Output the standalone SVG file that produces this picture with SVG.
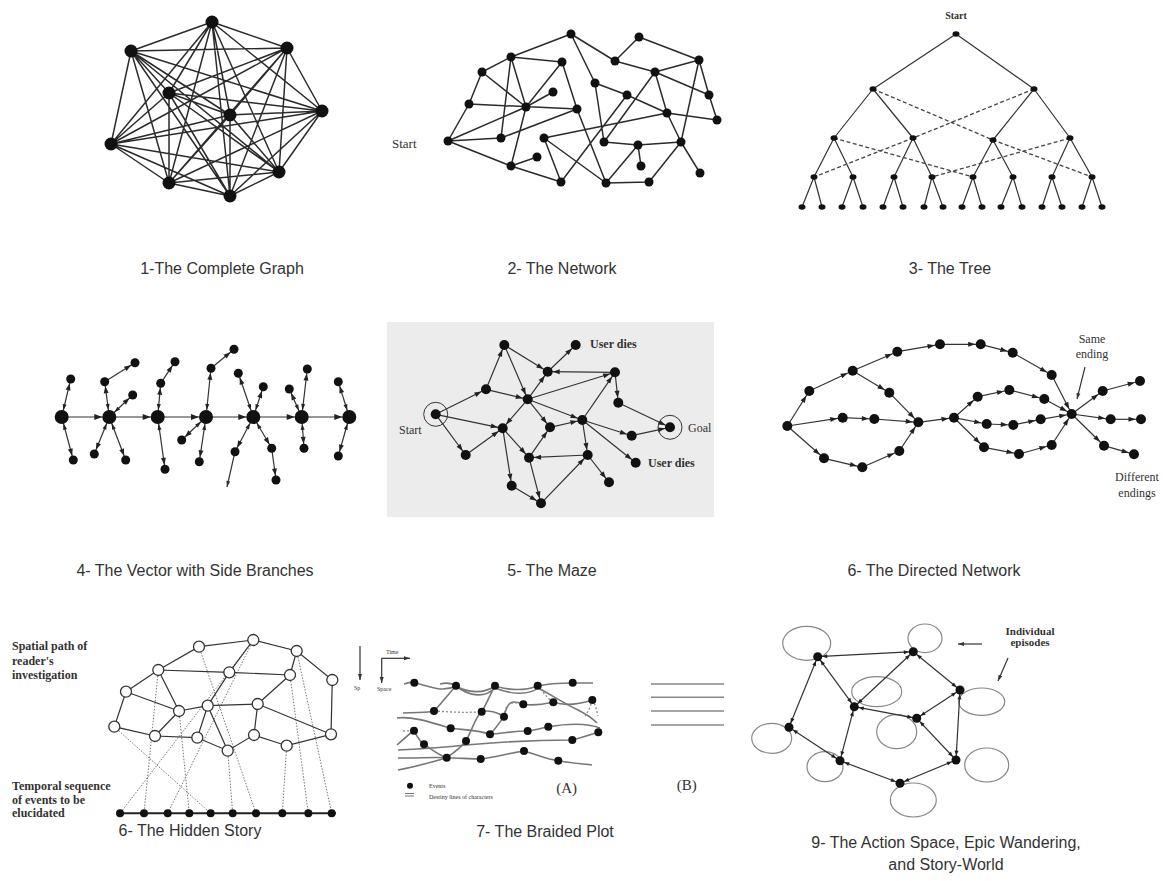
<svg xmlns="http://www.w3.org/2000/svg" width="1164" height="881" viewBox="0 0 1164 881">
<defs>
<style>
.cap{font-family:"Liberation Sans",Arial,sans-serif;font-size:16px;fill:#333;text-anchor:middle}
.ser{font-family:"Liberation Serif","Times New Roman",serif;fill:#333}
.b{font-weight:bold}
.ln{stroke:#2b2b2b;stroke-width:1.5;fill:none}
.thin{stroke:#333;stroke-width:1.2;fill:none}
.dash{stroke:#444;stroke-width:1.3;fill:none;stroke-dasharray:4 2.5}
.dot{stroke:#777;stroke-width:1;fill:none;stroke-dasharray:1.5 1.5}
.gr{stroke:#777;stroke-width:1.6;fill:none}
.grd{stroke:#888;stroke-width:1.3;fill:none;stroke-dasharray:2 2}
.nd{fill:#111}
.oc{fill:#fff;stroke:#333;stroke-width:1.3}
.ell{fill:none;stroke:#888;stroke-width:1.2}
</style>
<marker id="m4a" markerUnits="userSpaceOnUse" markerWidth="8" markerHeight="6" refX="15" refY="3" orient="auto" overflow="visible"><path d="M0,0L8,3L0,6z" fill="#222"/></marker>
<marker id="m4b" markerUnits="userSpaceOnUse" markerWidth="7" markerHeight="5" refX="11.5" refY="2.5" orient="auto" overflow="visible"><path d="M0,0L7,2.5L0,5z" fill="#222"/></marker>
<marker id="m4s" markerUnits="userSpaceOnUse" markerWidth="6" markerHeight="4" refX="13" refY="2" orient="auto-start-reverse" overflow="visible"><path d="M0,0L6,2L0,4z" fill="#222"/></marker>
<marker id="m5" markerUnits="userSpaceOnUse" markerWidth="7" markerHeight="5" refX="12" refY="2.5" orient="auto" overflow="visible"><path d="M0,0L7,2.5L0,5z" fill="#222"/></marker>
<marker id="m6" markerUnits="userSpaceOnUse" markerWidth="7" markerHeight="5" refX="12.5" refY="2.5" orient="auto" overflow="visible"><path d="M0,0L7,2.5L0,5z" fill="#222"/></marker>
<marker id="m9" markerUnits="userSpaceOnUse" markerWidth="5" markerHeight="4" refX="9.5" refY="2" orient="auto-start-reverse" overflow="visible"><path d="M0,0L5,2L0,4z" fill="#222"/></marker>
<marker id="m0" markerUnits="userSpaceOnUse" markerWidth="6" markerHeight="4" refX="6" refY="2" orient="auto" overflow="visible"><path d="M0,0L6,2L0,4z" fill="#333"/></marker>
</defs>
<rect width="1164" height="881" fill="#fff"/>

<!-- Panel 1: complete graph -->
<g id="p1-connectors">
<path class="ln" d="M212,22L131,51M212,22L287,48M212,22L169,93M212,22L230,115M212,22L322,111M212,22L111,144M212,22L169,183M212,22L230,196M212,22L279,172M131,51L287,48M131,51L169,93M131,51L230,115M131,51L322,111M131,51L111,144M131,51L169,183M131,51L230,196M131,51L279,172M287,48L169,93M287,48L230,115M287,48L322,111M287,48L111,144M287,48L169,183M287,48L230,196M287,48L279,172M169,93L230,115M169,93L322,111M169,93L111,144M169,93L169,183M169,93L230,196M169,93L279,172M230,115L322,111M230,115L111,144M230,115L169,183M230,115L230,196M230,115L279,172M322,111L111,144M322,111L169,183M322,111L230,196M322,111L279,172M111,144L169,183M111,144L230,196M111,144L279,172M169,183L230,196M169,183L279,172M230,196L279,172"/>
</g>
<g id="p1-nodes" class="nd">
<circle cx="212" cy="22" r="6.5"/><circle cx="131" cy="51" r="6.5"/><circle cx="287" cy="48" r="6.5"/><circle cx="169" cy="93" r="6.5"/><circle cx="230" cy="115" r="6.5"/><circle cx="322" cy="111" r="6.5"/><circle cx="111" cy="144" r="6.5"/><circle cx="169" cy="183" r="6.5"/><circle cx="230" cy="196" r="6.5"/><circle cx="279" cy="172" r="6.5"/>
</g>
<text class="cap" x="222" y="274">1-The Complete Graph</text>

<!-- Panel 2: network -->
<g id="p2-connectors">
<path class="ln" d="M448,141L469,104M469,104L482,72M482,72L511,57M511,57L571,34M511,57L562,62M511,57L501,138M511,57L526,107M482,72L526,107M469,104L577,109M526,107L553,92M562,62L526,107M448,141L526,107M448,141L501,138M501,138L577,109M526,107L511,166M448,141L511,166M511,166L537,157M511,166L561,182M562,62L577,109M571,34L595,83M571,34L615,61M595,83L627,95M627,95L667,113M595,83L604,142M577,109L606,183M615,61L639,37M639,37L699,60M615,61L655,72M655,72L699,60M655,72L709,95M699,60L709,95M709,95L717,120M699,60L681,142M655,72L667,113M655,72L604,142M667,113L717,120M667,113L681,142M544,138L667,113M604,142L638,145M638,145L681,142M638,145L641,166M638,145L606,183M681,142L700,173M681,142L649,182M606,183L649,182M544,138L606,183M544,138L561,182M561,182L627,95"/>
</g>
<g id="p2-nodes" class="nd">
<circle cx="571" cy="34" r="4.5"/><circle cx="639" cy="37" r="4.5"/><circle cx="511" cy="57" r="4.5"/><circle cx="562" cy="62" r="4.5"/><circle cx="615" cy="61" r="4.5"/><circle cx="699" cy="60" r="4.5"/><circle cx="482" cy="72" r="4.5"/><circle cx="655" cy="72" r="4.5"/><circle cx="595" cy="83" r="4.5"/><circle cx="553" cy="92" r="4.5"/><circle cx="627" cy="95" r="4.5"/><circle cx="709" cy="95" r="4.5"/><circle cx="469" cy="104" r="4.5"/><circle cx="526" cy="107" r="4.5"/><circle cx="577" cy="109" r="4.5"/><circle cx="667" cy="113" r="4.5"/><circle cx="717" cy="120" r="4.5"/><circle cx="448" cy="141" r="4.5"/><circle cx="501" cy="138" r="4.5"/><circle cx="544" cy="138" r="4.5"/><circle cx="604" cy="142" r="4.5"/><circle cx="638" cy="145" r="4.5"/><circle cx="681" cy="142" r="4.5"/><circle cx="537" cy="157" r="4.5"/><circle cx="511" cy="166" r="4.5"/><circle cx="641" cy="166" r="4.5"/><circle cx="700" cy="173" r="4.5"/><circle cx="561" cy="182" r="4.5"/><circle cx="606" cy="183" r="4.5"/><circle cx="649" cy="182" r="4.5"/>
</g>
<text class="ser" x="392" y="148" font-size="13">Start</text>
<text class="cap" x="562" y="274">2- The Network</text>

<!-- Panel 3: tree -->
<g id="p3-connectors">
<path class="thin" d="M956,34L873,89M956,34L1034,89M873,89L834,138M873,89L913,138M1034,89L993,140M1034,89L1070,138M834,138L814,177M834,138L853,177M913,138L894,177M913,138L932,177M993,140L973,177M993,140L1013,177M1070,138L1052,177M1070,138L1092,177M814,177L802,207M814,177L822,207M853,177L842,207M853,177L863,207M894,177L883,207M894,177L903,207M932,177L924,207M932,177L943,207M973,177L962,207M973,177L982,207M1013,177L1001,207M1013,177L1022,207M1052,177L1042,207M1052,177L1062,207M1092,177L1082,207M1092,177L1102,207"/>
<path class="dash" d="M873,89L993,140L1092,177M1034,89L913,138L814,177M834,138L973,177M1070,138L932,177"/>
</g>
<g id="p3-nodes" class="nd">
<ellipse cx="956" cy="34" rx="3.5" ry="2.8"/>
<ellipse cx="873" cy="89" rx="3.5" ry="2.8"/><ellipse cx="1034" cy="89" rx="3.5" ry="2.8"/>
<ellipse cx="834" cy="138" rx="3.5" ry="2.8"/><ellipse cx="913" cy="138" rx="3.5" ry="2.8"/><ellipse cx="993" cy="140" rx="3.5" ry="2.8"/><ellipse cx="1070" cy="138" rx="3.5" ry="2.8"/>
<ellipse cx="814" cy="177" rx="3.5" ry="2.8"/><ellipse cx="853" cy="177" rx="3.5" ry="2.8"/><ellipse cx="894" cy="177" rx="3.5" ry="2.8"/><ellipse cx="932" cy="177" rx="3.5" ry="2.8"/><ellipse cx="973" cy="177" rx="3.5" ry="2.8"/><ellipse cx="1013" cy="177" rx="3.5" ry="2.8"/><ellipse cx="1052" cy="177" rx="3.5" ry="2.8"/><ellipse cx="1092" cy="177" rx="3.5" ry="2.8"/>
<ellipse cx="802" cy="207" rx="3.5" ry="2.8"/><ellipse cx="822" cy="207" rx="3.5" ry="2.8"/><ellipse cx="842" cy="207" rx="3.5" ry="2.8"/><ellipse cx="863" cy="207" rx="3.5" ry="2.8"/><ellipse cx="883" cy="207" rx="3.5" ry="2.8"/><ellipse cx="903" cy="207" rx="3.5" ry="2.8"/><ellipse cx="924" cy="207" rx="3.5" ry="2.8"/><ellipse cx="943" cy="207" rx="3.5" ry="2.8"/><ellipse cx="962" cy="207" rx="3.5" ry="2.8"/><ellipse cx="982" cy="207" rx="3.5" ry="2.8"/><ellipse cx="1001" cy="207" rx="3.5" ry="2.8"/><ellipse cx="1022" cy="207" rx="3.5" ry="2.8"/><ellipse cx="1042" cy="207" rx="3.5" ry="2.8"/><ellipse cx="1062" cy="207" rx="3.5" ry="2.8"/><ellipse cx="1082" cy="207" rx="3.5" ry="2.8"/><ellipse cx="1102" cy="207" rx="3.5" ry="2.8"/>
</g>
<text class="ser b" x="956" y="19" font-size="10" text-anchor="middle">Start</text>
<text class="cap" x="950" y="274">3- The Tree</text>

<!-- Panel 4: vector with side branches -->
<g id="p4-connectors">
<g class="thin" marker-end="url(#m4a)">
<path d="M61.7,417L109.3,417"/><path d="M109.3,417L157.7,417"/><path d="M157.7,417L206,417"/><path d="M206,417L253.3,417"/><path d="M253.3,417L301.7,417"/><path d="M301.7,417L349.3,417"/>
</g>
<g class="thin" marker-start="url(#m4s)" marker-end="url(#m4b)">
<path d="M61.7,417L70.7,379"/><path d="M61.7,417L73.3,460"/>
<path d="M109.3,417L104.7,381.7"/><path d="M109.3,417L132.7,395"/><path d="M109.3,417L94.3,454"/><path d="M109.3,417L125.7,460"/>
<path d="M157.7,417L160.7,383.3"/><path d="M157.7,417L165,469.3"/>
<path d="M206,417L211,368.3"/><path d="M206,417L181.7,440"/><path d="M206,417L199.3,461.7"/>
<path d="M253.3,417L238.3,373.3"/><path d="M253.3,417L263.3,386.7"/><path d="M253.3,417L235,451.7"/><path d="M253.3,417L271.7,448.3"/>
<path d="M301.7,417L289.3,389"/><path d="M301.7,417L307.3,369"/><path d="M301.7,417L304,448.3"/>
<path d="M349.3,417L338.3,381.7"/><path d="M349.3,417L338.3,456"/>
</g>
<g class="thin" marker-end="url(#m4b)">
<path d="M104.7,381.7L135,362.7"/><path d="M160.7,383.3L175,361.7"/><path d="M211,368.3L234,349.3"/><path d="M271.7,448.3L276,480"/>
</g>
<path class="thin" d="M235,451.7L227,487" marker-end="url(#m0)"/>
</g>
<g id="p4-nodes" class="nd">
<circle cx="61.7" cy="417" r="7"/><circle cx="109.3" cy="417" r="7"/><circle cx="157.7" cy="417" r="7"/><circle cx="206" cy="417" r="7"/><circle cx="253.3" cy="417" r="7"/><circle cx="301.7" cy="417" r="7"/><circle cx="349.3" cy="417" r="7"/>
<circle cx="70.7" cy="379" r="4.5"/><circle cx="73.3" cy="460" r="4.5"/><circle cx="104.7" cy="381.7" r="4.5"/><circle cx="135" cy="362.7" r="4.5"/><circle cx="132.7" cy="395" r="4.5"/><circle cx="94.3" cy="454" r="4.5"/><circle cx="125.7" cy="460" r="4.5"/><circle cx="160.7" cy="383.3" r="4.5"/><circle cx="175" cy="361.7" r="4.5"/><circle cx="165" cy="469.3" r="4.5"/><circle cx="211" cy="368.3" r="4.5"/><circle cx="234" cy="349.3" r="4.5"/><circle cx="181.7" cy="440" r="4.5"/><circle cx="199.3" cy="461.7" r="4.5"/><circle cx="238.3" cy="373.3" r="4.5"/><circle cx="263.3" cy="386.7" r="4.5"/><circle cx="235" cy="451.7" r="4.5"/><circle cx="271.7" cy="448.3" r="4.5"/><circle cx="276" cy="480" r="4.5"/><circle cx="289.3" cy="389" r="4.5"/><circle cx="307.3" cy="369" r="4.5"/><circle cx="304" cy="448.3" r="4.5"/><circle cx="338.3" cy="381.7" r="4.5"/><circle cx="338.3" cy="456" r="4.5"/>
</g>
<text class="cap" x="195" y="576">4- The Vector with Side Branches</text>

<!-- Panel 5: maze -->
<rect x="387" y="322" width="327" height="195" fill="#ececec"/>
<g id="p5-connectors" class="thin" marker-end="url(#m5)">
<path d="M435.7,414.3L486,389.3"/><path d="M435.7,414.3L502.7,428.3"/><path d="M435.7,414.3L465.7,455"/><path d="M465.7,455L502.7,428.3"/>
<path d="M486,389.3L504.3,345"/><path d="M504.3,345L547.7,371.7"/><path d="M504.3,345L527.7,399.3"/><path d="M547.7,371.7L575.7,345"/>
<path d="M615,372.3L547.7,371.7"/><path d="M486,389.3L527.7,399.3"/><path d="M527.7,399.3L547.7,371.7"/><path d="M527.7,399.3L615,372.3"/>
<path d="M615,372.3L618.3,402.7"/><path d="M582.3,420L615,372.3"/><path d="M527.7,399.3L550,427.3"/><path d="M527.7,399.3L502.7,428.3"/>
<path d="M527.7,399.3L582.3,420"/><path d="M618.3,402.7L670,427.3"/><path d="M582.3,420L631.7,435.7"/><path d="M631.7,435.7L670,427.3"/>
<path d="M582.3,420L635.7,462.7"/><path d="M582.3,420L587.7,455"/><path d="M550,427.3L582.3,420"/><path d="M502.7,428.3L529,457.7"/>
<path d="M529,457.7L550,427.3"/><path d="M587.7,455L529,457.7"/><path d="M587.7,455L609,482.3"/><path d="M502.7,428.3L511.7,485.7"/>
<path d="M529,457.7L541,503.3"/><path d="M511.7,485.7L541,503.3"/><path d="M541,503.3L587.7,455"/>
</g>
<g id="p5-nodes" class="nd">
<circle cx="435.7" cy="414.3" r="12" fill="none" stroke="#333" stroke-width="1"/><circle cx="435.7" cy="414.3" r="5"/>
<circle cx="670" cy="427.3" r="12" fill="none" stroke="#333" stroke-width="1"/><circle cx="670" cy="427.3" r="5"/>
<circle cx="504.3" cy="345" r="5"/><circle cx="575.7" cy="345" r="5"/><circle cx="547.7" cy="371.7" r="5"/><circle cx="615" cy="372.3" r="5"/><circle cx="486" cy="389.3" r="5"/><circle cx="527.7" cy="399.3" r="5"/><circle cx="618.3" cy="402.7" r="5"/><circle cx="502.7" cy="428.3" r="5"/><circle cx="550" cy="427.3" r="5"/><circle cx="582.3" cy="420" r="5"/><circle cx="631.7" cy="435.7" r="5"/><circle cx="465.7" cy="455" r="5"/><circle cx="529" cy="457.7" r="5"/><circle cx="587.7" cy="455" r="5"/><circle cx="635.7" cy="462.7" r="5"/><circle cx="609" cy="482.3" r="5"/><circle cx="511.7" cy="485.7" r="5"/><circle cx="541" cy="503.3" r="5"/>
</g>
<text class="ser b" x="590" y="348" font-size="12">User dies</text>
<text class="ser b" x="648" y="467" font-size="12">User dies</text>
<text class="ser" x="399" y="434" font-size="12">Start</text>
<text class="ser" x="688" y="432" font-size="12">Goal</text>
<text class="cap" x="552" y="576">5- The Maze</text>

<!-- Panel 6: directed network -->
<g id="p6-connectors" class="thin" marker-end="url(#m6)">
<path d="M787.3,426L809.3,391"/><path d="M809.3,391L852.7,370.7"/><path d="M852.7,370.7L897.3,351.7"/><path d="M897.3,351.7L940,344.3"/><path d="M940,344.3L980.7,344.3"/><path d="M980.7,344.3L1012.7,352.7"/><path d="M1012.7,352.7L1051.7,375"/><path d="M1051.7,375L1071.7,414"/>
<path d="M852.7,370.7L889.3,392.7"/><path d="M889.3,392.7L918.3,422.3"/>
<path d="M787.3,426L842.7,417.7"/><path d="M842.7,417.7L874.3,419"/><path d="M874.3,419L918.3,422.3"/>
<path d="M787.3,426L824,458.3"/><path d="M824,458.3L862.3,467.3"/><path d="M862.3,467.3L899.3,451"/><path d="M899.3,451L918.3,422.3"/>
<path d="M918.3,422.3L954,417.7"/>
<path d="M954,417.7L977.7,396.7"/><path d="M977.7,396.7L1009.3,390"/><path d="M1009.3,390L1044.3,399"/><path d="M1044.3,399L1071.7,414"/>
<path d="M954,417.7L986.7,424"/><path d="M986.7,424L1013.3,425"/><path d="M1013.3,425L1040.7,419.3"/><path d="M1040.7,419.3L1071.7,414"/>
<path d="M954,417.7L984,447.3"/><path d="M984,447.3L1019,454"/><path d="M1019,454L1051.7,445"/><path d="M1051.7,445L1071.7,414"/>
<path d="M1071.7,414L1102.7,391"/><path d="M1102.7,391L1140,381"/>
<path d="M1071.7,414L1110.7,419.3"/><path d="M1110.7,419.3L1141,419.3"/>
<path d="M1071.7,414L1104,445.7"/><path d="M1104,445.7L1134,454.3"/>
</g>
<g id="p6-nodes" class="nd">
<circle cx="787.3" cy="426" r="5"/><circle cx="809.3" cy="391" r="5"/><circle cx="852.7" cy="370.7" r="5"/><circle cx="897.3" cy="351.7" r="5"/><circle cx="940" cy="344.3" r="5"/><circle cx="980.7" cy="344.3" r="5"/><circle cx="1012.7" cy="352.7" r="5"/><circle cx="1051.7" cy="375" r="5"/><circle cx="889.3" cy="392.7" r="5"/><circle cx="842.7" cy="417.7" r="5"/><circle cx="874.3" cy="419" r="5"/><circle cx="824" cy="458.3" r="5"/><circle cx="862.3" cy="467.3" r="5"/><circle cx="899.3" cy="451" r="5"/><circle cx="918.3" cy="422.3" r="5"/><circle cx="954" cy="417.7" r="5"/><circle cx="977.7" cy="396.7" r="5"/><circle cx="1009.3" cy="390" r="5"/><circle cx="1044.3" cy="399" r="5"/><circle cx="986.7" cy="424" r="5"/><circle cx="1013.3" cy="425" r="5"/><circle cx="1040.7" cy="419.3" r="5"/><circle cx="984" cy="447.3" r="5"/><circle cx="1019" cy="454" r="5"/><circle cx="1051.7" cy="445" r="5"/><circle cx="1071.7" cy="414" r="5"/><circle cx="1102.7" cy="391" r="5"/><circle cx="1140" cy="381" r="5"/><circle cx="1110.7" cy="419.3" r="5"/><circle cx="1141" cy="419.3" r="5"/><circle cx="1104" cy="445.7" r="5"/><circle cx="1134" cy="454.3" r="5"/>
</g>
<path class="thin" d="M1085,367L1077,399" marker-end="url(#m0)"/>
<text class="ser" x="1092" y="343" font-size="12" text-anchor="middle">Same</text>
<text class="ser" x="1092" y="358" font-size="12" text-anchor="middle">ending</text>
<text class="ser" x="1137" y="481" font-size="12" text-anchor="middle">Different</text>
<text class="ser" x="1137" y="497" font-size="12" text-anchor="middle">endings</text>
<text class="cap" x="934" y="576">6- The Directed Network</text>

<!-- Panel 7: hidden story -->
<g id="p7-connectors">
<path class="dot" d="M253.3,640L120,813.3M253.3,640L167.7,813.3M158.3,670L144,813.3M114.3,726.7L210.7,813.3M179,711L189.3,813.3M199,646.7L256,813.3M227.7,750.7L232.7,813.3M286.7,745.7L282.3,813.3M290,675L308.3,813.3M296.7,651L331.7,813.3"/>
<path class="thin" d="M126,691.7L158.3,670L199,646.7L253.3,640L296.7,651L332.3,680L331,734.3M158.3,670L229.3,672.3L290,675M126,691.7L114.3,726.7L155,736L197.3,737.7M126,691.7L179,711M158.3,670L179,711M155,736L179,711M179,711L207.7,705.7L257.7,704L331,734.3M253.3,640L229.3,672.3L207.7,705.7M207.7,705.7L227.7,750.7M197.3,737.7L207.7,705.7M197.3,737.7L227.7,750.7L254,735L257.7,704M254,735L286.7,745.7L331,734.3M290,675L257.7,704M296.7,651L290,675"/>
<path stroke="#222" stroke-width="2" d="M117,813.3L336,813.3"/>
</g>
<g id="p7-nodes">
<g class="oc">
<circle cx="199" cy="646.7" r="5.5"/><circle cx="253.3" cy="640" r="5.5"/><circle cx="296.7" cy="651" r="5.5"/><circle cx="158.3" cy="670" r="5.5"/><circle cx="229.3" cy="672.3" r="5.5"/><circle cx="290" cy="675" r="5.5"/><circle cx="332.3" cy="680" r="5.5"/><circle cx="126" cy="691.7" r="5.5"/><circle cx="179" cy="711" r="5.5"/><circle cx="207.7" cy="705.7" r="5.5"/><circle cx="257.7" cy="704" r="5.5"/><circle cx="114.3" cy="726.7" r="5.5"/><circle cx="155" cy="736" r="5.5"/><circle cx="197.3" cy="737.7" r="5.5"/><circle cx="254" cy="735" r="5.5"/><circle cx="227.7" cy="750.7" r="5.5"/><circle cx="286.7" cy="745.7" r="5.5"/><circle cx="331" cy="734.3" r="5.5"/>
</g>
<g class="nd">
<circle cx="120" cy="813.3" r="4"/><circle cx="144" cy="813.3" r="4"/><circle cx="167.7" cy="813.3" r="4"/><circle cx="189.3" cy="813.3" r="4"/><circle cx="210.7" cy="813.3" r="4"/><circle cx="232.7" cy="813.3" r="4"/><circle cx="256" cy="813.3" r="4"/><circle cx="282.3" cy="813.3" r="4"/><circle cx="308.3" cy="813.3" r="4"/><circle cx="331.7" cy="813.3" r="4"/>
</g>
</g>
<g class="ser b" font-size="12">
<text x="12" y="650">Spatial path of</text>
<text x="12" y="665">reader's</text>
<text x="12" y="679">investigation</text>
<text x="12" y="790">Temporal sequence</text>
<text x="12" y="803.5">of events to be</text>
<text x="12" y="817">elucidated</text>
</g>
<text class="cap" x="190" y="836">6- The Hidden Story</text>

<!-- Panel 8: braided plot -->
<g id="p8-connectors">
<path class="thin" stroke-width="0.8" d="M360,646L360,680" marker-end="url(#m0)"/>
<path class="thin" stroke-width="0.8" d="M381.7,658.3L410,658.3" marker-end="url(#m0)"/>
<path class="thin" stroke-width="0.8" d="M381.7,658.3L381.7,683" marker-end="url(#m0)"/>
<path class="gr" d="M404,684C409,682 412,682 414,683C425,684 440,694 456,686C468,693 484,694 495,686C508,690 524,691 538,686C550,683 562,683 573,683L593,683"/>
<path class="gr" d="M440,684C448,682 452,683 456,686C470,697 485,698 495,688C510,694 528,696 538,688C550,694 565,704 578,710C588,715 594,720 597,723"/>
<path class="gr" d="M403,713C418,712 428,713 434,711C442,703 450,692 456,686"/>
<path class="gr" d="M397,718C412,716 430,722 450.7,728.3C465,730 478,730 490,734.3C505,733 515,731 527.7,731C535,730 542,728 548.3,726.7C565,724 585,722 600,728"/>
<path class="gr" d="M490,734.3C496,728 500,722 504,716.7C508,700 512,700 523.3,704.3C535,706 545,704 553.3,702.3C565,706 580,704 592.3,700"/>
<path class="gr" d="M397,745C405,738 410,733 414,730.7C418,738 420,742 424,744.3C432,750 440,756 446.7,757.7C455,752 462,746 466,741C472,730 476,716 481.7,711.7C488,710 498,712 504,716.7"/>
<path class="gr" d="M481.7,711.7C486,705 490,695 495,685.7"/>
<path class="gr" d="M398,758C420,758 435,757 446.7,757.7C460,758 470,759 480.7,759C495,757 510,753 524,751C535,754 548,760 558.3,760.7C570,763 585,764 592,765"/>
<path class="gr" d="M398,770C420,766 438,760 446.7,757.7"/>
<path class="gr" d="M398,750C420,749 440,748 466,745C500,742 540,740 572.3,740C585,737 592,734 598.3,732.3"/>
<path class="grd" d="M403,731L414,730.7M434,711C450,712 465,713 481.7,711.7M504,716.7C505,705 510,700 523.3,704.3M538,686C545,695 550,700 553.3,702.3M592.3,700C590,708 588,712 585,716M592.3,700C596,705 597,712 598,716"/>
<path stroke="#777" stroke-width="1" d="M405,793.5L414,793.5M405,796L414,796"/>
<path stroke="#888" stroke-width="1.6" d="M651,684L724,684M651,697.3L724,697.3M651,711L724,711M651,725L724,725"/>
</g>
<g id="p8-nodes" class="nd">
<circle cx="414.3" cy="682.7" r="4"/><circle cx="456" cy="685.7" r="4"/><circle cx="495" cy="685.7" r="4"/><circle cx="537.7" cy="685.7" r="4"/><circle cx="572.7" cy="682.7" r="4"/><circle cx="434" cy="711" r="4"/><circle cx="481.7" cy="711.7" r="4"/><circle cx="523.3" cy="704.3" r="4"/><circle cx="553.3" cy="702.3" r="4"/><circle cx="592.3" cy="700" r="4"/><circle cx="504" cy="716.7" r="4"/><circle cx="414" cy="730.7" r="4"/><circle cx="450.7" cy="728.3" r="4"/><circle cx="490" cy="734.3" r="4"/><circle cx="527.7" cy="731" r="4"/><circle cx="548.3" cy="726.7" r="4"/><circle cx="598.3" cy="732.3" r="4"/><circle cx="424" cy="744.3" r="4"/><circle cx="466" cy="741" r="4"/><circle cx="572.3" cy="740" r="4"/><circle cx="446.7" cy="757.7" r="4"/><circle cx="480.7" cy="759" r="4"/><circle cx="524" cy="751" r="4"/><circle cx="558.3" cy="760.7" r="4"/>
<circle cx="410" cy="785.7" r="3"/>
</g>
<g class="ser" font-size="6">
<text x="354" y="690">Sp</text>
<text x="386" y="654">Time</text>
<text x="377" y="691">Space</text>
<text x="429" y="788">Events</text>
<text x="429" y="799">Destiny lines of characters</text>
</g>
<text class="ser" x="566.7" y="793" font-size="15" text-anchor="middle">(A)</text>
<text class="ser" x="686.7" y="790" font-size="15" text-anchor="middle">(B)</text>
<text class="cap" x="545" y="837">7- The Braided Plot</text>

<!-- Panel 9: action space -->
<g id="p9-connectors">
<g class="ell">
<ellipse cx="806.7" cy="643.3" rx="24" ry="17"/><ellipse cx="925" cy="638.3" rx="17" ry="14.3"/><ellipse cx="981.7" cy="701.7" rx="23" ry="13.7"/><ellipse cx="876.7" cy="691.7" rx="25" ry="15"/><ellipse cx="896.7" cy="731.7" rx="20" ry="17"/><ellipse cx="771.7" cy="738.3" rx="20" ry="15"/><ellipse cx="825" cy="766.7" rx="18" ry="15"/><ellipse cx="986.7" cy="765" rx="22" ry="17"/><ellipse cx="913.3" cy="800" rx="23" ry="17"/>
</g>
<g class="thin" marker-start="url(#m9)" marker-end="url(#m9)">
<path d="M817.7,656.7L913.3,651.7"/><path d="M817.7,656.7L854.3,706.7"/><path d="M817.7,656.7L789,727.3"/><path d="M913.3,651.7L854.3,706.7"/><path d="M913.3,651.7L960,690"/><path d="M960,690L916.7,718.3"/><path d="M960,690L956,760"/><path d="M854.3,706.7L916.7,718.3"/><path d="M854.3,706.7L840,760.7"/><path d="M789,727.3L840,760.7"/><path d="M916.7,718.3L956,760"/><path d="M840,760.7L900,783.3"/><path d="M900,783.3L956,760"/>
</g>
<path class="thin" d="M982,644L958,644" marker-end="url(#m0)"/>
<path class="thin" d="M1008,658L998,681" marker-end="url(#m0)"/>
</g>
<g id="p9-nodes" class="nd">
<circle cx="817.7" cy="656.7" r="4.5"/><circle cx="913.3" cy="651.7" r="4.5"/><circle cx="960" cy="690" r="4.5"/><circle cx="854.3" cy="706.7" r="4.5"/><circle cx="916.7" cy="718.3" r="4.5"/><circle cx="789" cy="727.3" r="4.5"/><circle cx="840" cy="760.7" r="4.5"/><circle cx="956" cy="760" r="4.5"/><circle cx="900" cy="783.3" r="4.5"/>
</g>
<text class="ser b" x="1030" y="635" font-size="11" text-anchor="middle">Individual</text>
<text class="ser b" x="1030" y="646" font-size="11" text-anchor="middle">episodes</text>
<text class="cap" x="946" y="848">9- The Action Space, Epic Wandering,</text>
<text class="cap" x="946" y="870">and Story-World</text>
</svg>
